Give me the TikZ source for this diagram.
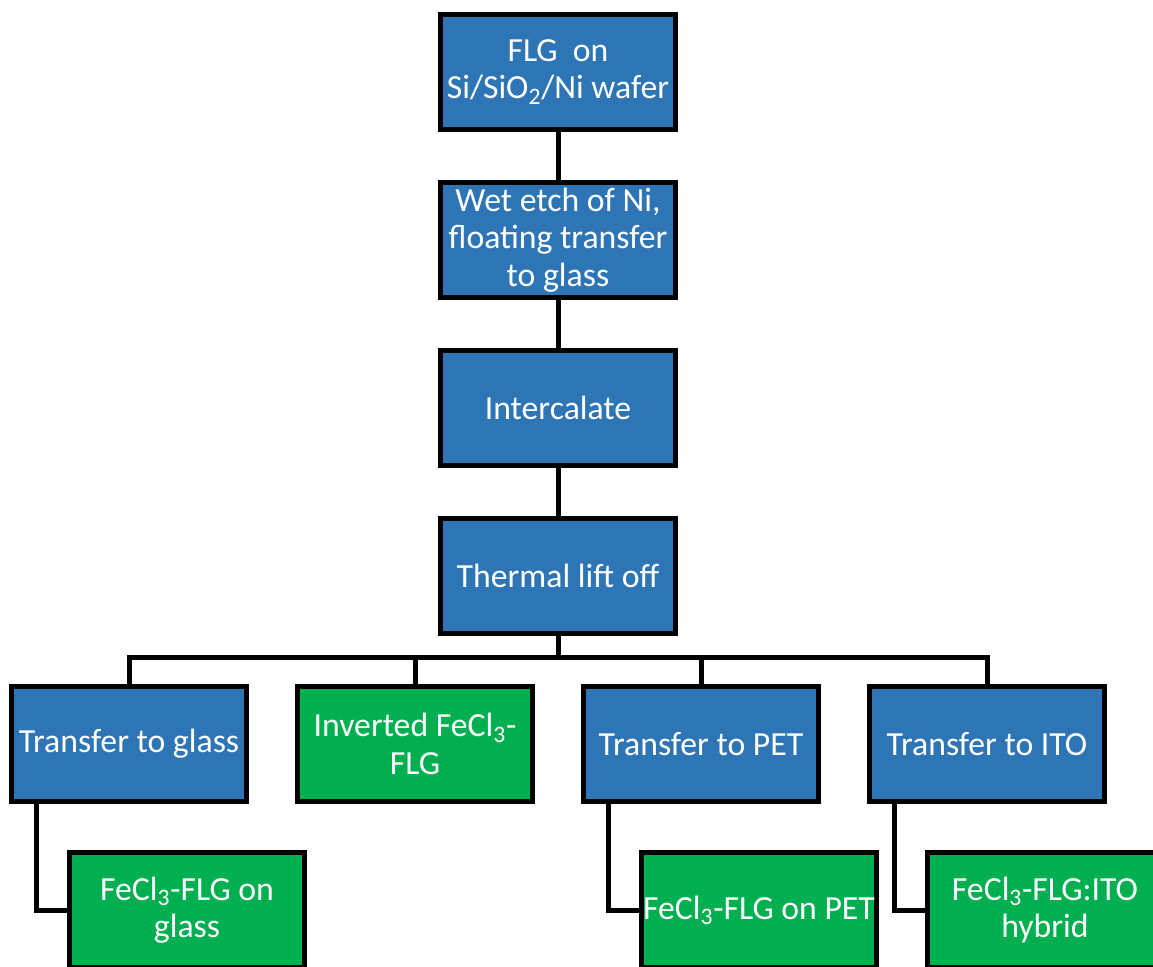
\documentclass[tikz,border=0pt]{standalone}
\usepackage{fontspec}
\setmainfont{Carlito}
\usepackage{tikz}
\usetikzlibrary{positioning,calc}
\definecolor{stepblue}{HTML}{2E75B6}
\definecolor{stepgreen}{HTML}{00B050}
\tikzset{
  flowbox/.style={rectangle,draw=black,line width=0.125cm,fill=stepblue,
    text=white,align=center,font=\fontsize{24}{26.5}\selectfont,
    minimum width=5.875cm,minimum height=2.875cm,inner sep=0pt},
  endbox/.style={flowbox,fill=stepgreen},
  flowline/.style={line width=0.125cm,color=black},
}

\begin{document}
\begin{tikzpicture}[node distance=1.2cm]
  \useasboundingbox (0,0) rectangle (28.825,-24.15);

  \node[flowbox] (wafer) at (13.95,-1.8) {FLG\ \ on\\Si/SiO\textsubscript{2}/Ni wafer};
  \node[flowbox, below=of wafer] (etch) {Wet etch of Ni,\\floating transfer\\to glass};
  \node[flowbox, below=of etch] (inter) {Intercalate};
  \node[flowbox, below=of inter] (lift) {Thermal lift off};

  \node[endbox, below=of lift, xshift=-3.575cm] (inv) {Inverted FeCl\textsubscript{3}-\\FLG};
  \node[flowbox, left=1.15cm of inv] (glass) {Transfer to glass};
  \node[flowbox, right=1.15cm of inv] (pet) {Transfer to PET};
  \node[flowbox, right=1.15cm of pet] (ito) {Transfer to ITO};

  \node[endbox, below=1.15cm of glass, xshift=1.45cm] (onglass) {FeCl\textsubscript{3}-FLG on\\glass};
  \node[endbox, below=1.15cm of pet, xshift=1.45cm] (onpet) {FeCl\textsubscript{3}-FLG on PET};
  \node[endbox, below=1.15cm of ito, xshift=1.45cm] (hybrid) {FeCl\textsubscript{3}-FLG:ITO\\hybrid};

  \draw[flowline] (wafer) -- (etch);
  \draw[flowline] (etch) -- (inter);
  \draw[flowline] (inter) -- (lift);
  \draw[flowline] (lift.south) -- ++(0,-0.525) coordinate (bus);
  \foreach \n in {glass,inv,pet,ito}
    \draw[flowline] (bus) -| (\n.north);
  \draw[flowline] ([xshift=0.675cm]glass.south west) |- (onglass.west);
  \draw[flowline] ([xshift=0.675cm]pet.south west) |- (onpet.west);
  \draw[flowline] ([xshift=0.675cm]ito.south west) |- (hybrid.west);
\end{tikzpicture}
\end{document}
